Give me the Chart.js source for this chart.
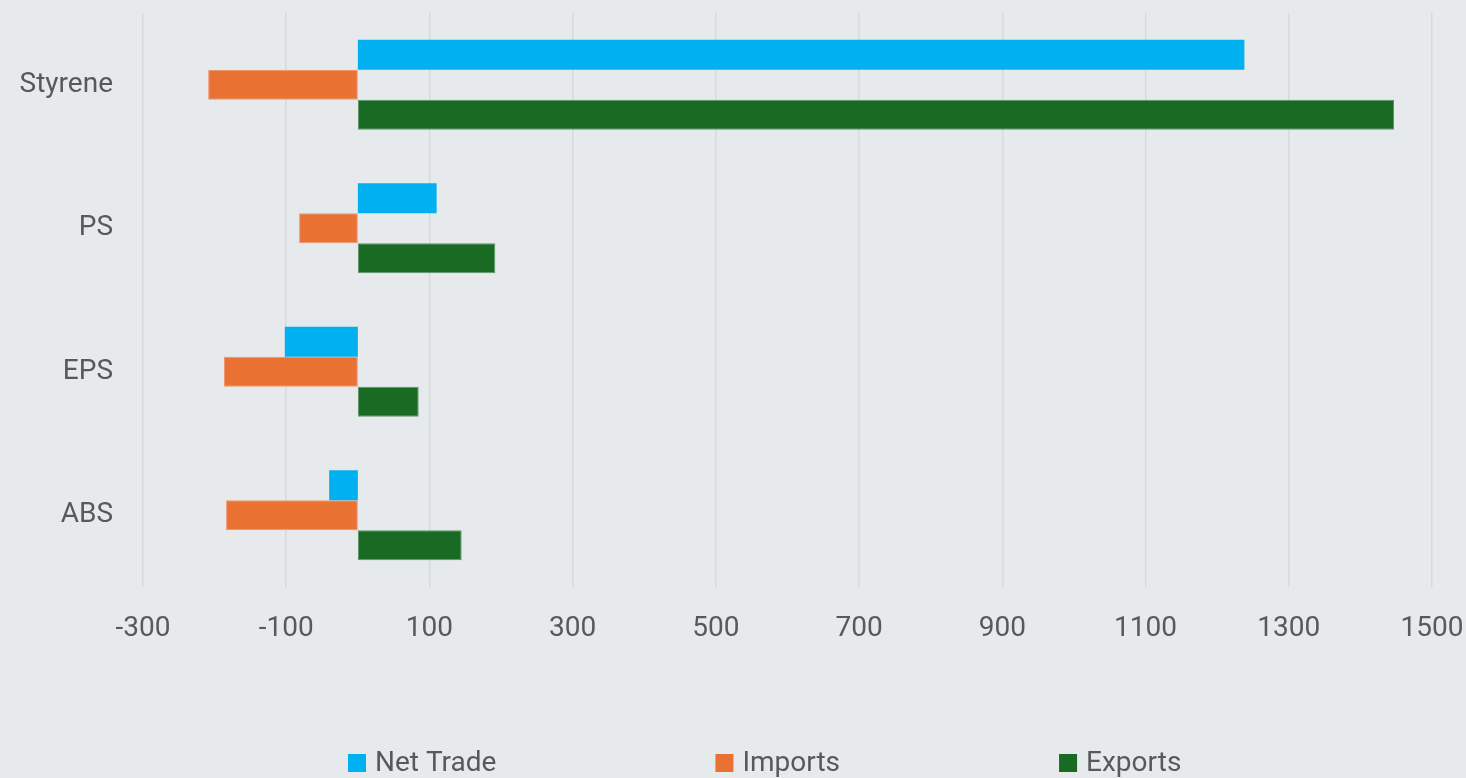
<!DOCTYPE html>
<html>
<head>
<meta charset="utf-8">
<script src="https://cdn.jsdelivr.net/npm/chart.js@4/dist/chart.umd.min.js"></script>
<style>
  html, body { margin: 0; padding: 0; background: #E6EAED; }
  #wrap { width: 1466px; height: 778px; }
</style>
</head>
<body>
<div id="wrap"><canvas id="tradeChart" width="1466" height="778"></canvas></div>
<script>
const products = ['Styrene', 'PS', 'EPS', 'ABS'];
const netTrade = [1238, 110, -102, -40];
const imports = [-209, -82, -187, -184];
const exports = [1447, 192, 85, 145];
const xTicks = [-300, -100, 100, 300, 500, 700, 900, 1100, 1300, 1500];

const FONT = "'Roboto', 'Liberation Sans', sans-serif";
const TEXT = '#595959';
const SIZE = 28;

// legend spread out along the bottom, items far apart
const wideLegend = {
    id: 'wideLegend',
    afterDraw(chart) {
        const ctx = chart.ctx;
        const gap = 219;
        const box = 18;
        ctx.save();
        ctx.font = SIZE + 'px ' + FONT;
        ctx.textBaseline = 'middle';
        let x = 348;
        const y = 763;
        chart.data.datasets.forEach(ds => {
            ctx.fillStyle = ds.backgroundColor;
            ctx.fillRect(x, y - box / 2, box, box);
            ctx.fillStyle = TEXT;
            ctx.fillText(ds.label, x + box + 9, y + 1);
            x += box + 9 + ctx.measureText(ds.label).width + gap;
        });
        ctx.restore();
    }
};

new Chart(document.getElementById('tradeChart').getContext('2d'), {
    type: 'bar',
    data: {
        labels: products,
        datasets: [
            { label: 'Net Trade', data: netTrade, backgroundColor: '#00B0F0' },
            { label: 'Imports', data: imports, backgroundColor: '#E97132', borderColor: '#EE9468', borderWidth: 1, borderSkipped: false },
            { label: 'Exports', data: exports, backgroundColor: '#196B24', borderColor: '#5E9266', borderWidth: 1, borderSkipped: false }
        ]
    },
    options: {
        indexAxis: 'y',
        responsive: false,
        animation: false,
        categoryPercentage: 0.627,
        barPercentage: 1,
        layout: { padding: { top: 13, right: 34, bottom: 91, left: 0 } },
        plugins: {
            legend: { display: false },
            tooltip: { enabled: false }
        },
        scales: {
            x: {
                min: -300,
                max: 1500,
                afterBuildTicks: scale => { scale.ticks = xTicks.map(v => ({ value: v })); },
                afterFit: scale => {
                    scale.height = 100;
                    scale.paddingLeft = 0;
                    scale.paddingRight = 0;
                },
                grid: { color: '#D6DADD', lineWidth: 1.5, drawTicks: false },
                border: { display: false },
                ticks: {
                    color: TEXT,
                    font: { family: FONT, size: SIZE },
                    padding: 25,
                    callback: v => String(v)
                }
            },
            y: {
                afterFit: scale => {
                    scale.width = 143;
                    scale.paddingTop = 0;
                    scale.paddingBottom = 0;
                },
                grid: { display: false, drawTicks: false },
                border: { display: false },
                ticks: { color: TEXT, font: { family: FONT, size: SIZE }, padding: 30 }
            }
        }
    },
    plugins: [wideLegend]
});
</script>
</body>
</html>
